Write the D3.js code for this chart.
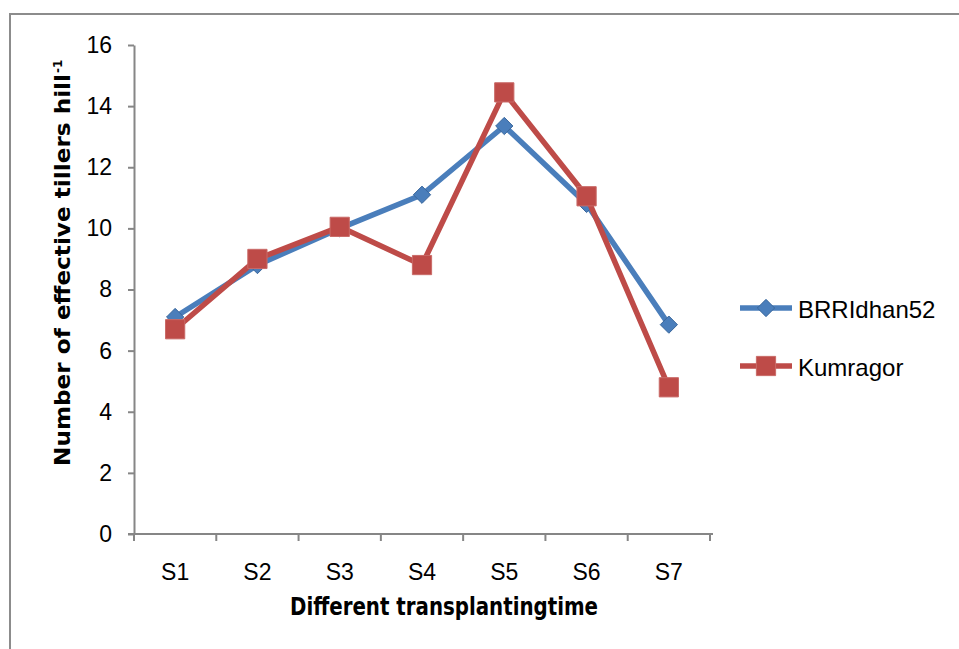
<!DOCTYPE html>
<html>
<head>
<meta charset="utf-8">
<script src="https://cdn.jsdelivr.net/npm/d3@7"></script>
<style>
  html, body { margin: 0; padding: 0; background: #ffffff; }
  svg { display: block; }
</style>
</head>
<body>
<svg id="chart" width="959" height="649"></svg>
<script>
// Transplanting dates and effective tillers per hill for the two varieties
const categories = ["S1", "S2", "S3", "S4", "S5", "S6", "S7"];
const brriValues = [7.1, 8.8, 10.0, 11.1, 13.35, 10.8, 6.85];
const kumragorValues = [6.7, 9.0, 10.05, 8.8, 14.45, 11.05, 4.8];
const yTicks = [0, 2, 4, 6, 8, 10, 12, 14, 16];
const seriesNames = ["BRRIdhan52", "Kumragor"];

const svg = d3.select("#chart");
const W = 959, H = 649;

const axisColor = "#868686";
const blue = "#4a7ebb", blueEdge = "#3a679c";
const red = "#be4b48", redEdge = "#c96a67";

// outer chart frame (top and left edges show inside the view)
svg.append("rect")
  .attr("x", 10).attr("y", 14)
  .attr("width", W + 20).attr("height", H + 20)
  .attr("fill", "none").attr("stroke", "#8c8c8c").attr("stroke-width", 2);

const plotLeft = 134, plotRight = 710, plotTop = 45, plotBottom = 534;

const x = d3.scaleBand().domain(categories).range([plotLeft, plotRight]).padding(0);
const y = d3.scaleLinear().domain([0, 16]).range([plotBottom, plotTop]);

// y axis
const yAxis = svg.append("g").attr("transform", `translate(${plotLeft},0)`)
  .call(d3.axisLeft(y).tickValues(yTicks).tickSize(6).tickSizeOuter(0).tickPadding(16));
yAxis.select(".domain").attr("stroke", axisColor).attr("stroke-width", 2);
yAxis.selectAll(".tick line").attr("stroke", axisColor).attr("stroke-width", 2);
yAxis.selectAll(".tick text")
  .attr("font-family", "'Liberation Sans', Arial, sans-serif")
  .attr("font-size", 23).attr("fill", "#000");

// x axis: ticks sit on the category boundaries
const xAxisG = svg.append("g").attr("transform", `translate(0,${plotBottom})`);
xAxisG.append("line")
  .attr("x1", plotLeft - 6).attr("x2", plotRight + 3)
  .attr("y1", 0).attr("y2", 0)
  .attr("stroke", axisColor).attr("stroke-width", 2);
const boundaries = categories.map(c => x(c)).concat([x(categories[categories.length - 1]) + x.bandwidth()]);
xAxisG.selectAll("line.tk").data(boundaries).join("line")
  .attr("class", "tk")
  .attr("x1", d => d).attr("x2", d => d)
  .attr("y1", 0).attr("y2", 7)
  .attr("stroke", axisColor).attr("stroke-width", 2);
xAxisG.selectAll("text").data(categories).join("text")
  .attr("x", d => x(d) + x.bandwidth() / 2)
  .attr("y", 46)
  .attr("text-anchor", "middle")
  .attr("font-family", "'Liberation Sans', Arial, sans-serif")
  .attr("font-size", 23).attr("fill", "#000")
  .text(d => d);

// axis titles
svg.append("text")
  .attr("x", 290).attr("y", 615)
  .attr("font-family", "'DejaVu Sans', Verdana, sans-serif")
  .attr("font-weight", "bold").attr("font-size", 24)
  .attr("textLength", 308).attr("lengthAdjust", "spacingAndGlyphs")
  .attr("fill", "#000")
  .text("Different transplantingtime");

svg.append("text")
  .attr("transform", "translate(70,466) rotate(-90)")
  .attr("font-family", "'DejaVu Sans', Verdana, sans-serif")
  .attr("font-weight", "bold").attr("font-size", 22)
  .attr("textLength", 392).attr("lengthAdjust", "spacingAndGlyphs")
  .attr("fill", "#000")
  .text("Number of effective tillers hill");
svg.append("text")
  .attr("transform", "translate(62,73) rotate(-90)")
  .attr("font-family", "'DejaVu Sans', Verdana, sans-serif")
  .attr("font-weight", "bold").attr("font-size", 12)
  .attr("fill", "#000")
  .text("-1");

// series
const series = [
  { name: seriesNames[0], values: brriValues, color: blue, edge: blueEdge, shape: "diamond" },
  { name: seriesNames[1], values: kumragorValues, color: red, edge: redEdge, shape: "square" }
];

const line = d3.line()
  .x((d, i) => x(categories[i]) + x.bandwidth() / 2)
  .y(d => y(d));

const diamond = d3.symbol().type(d3.symbolDiamond2).size(190);
const square = d3.symbol().type(d3.symbolSquare).size(370);

function drawMarker(g, shape, color, edge) {
  g.append("path").attr("d", shape === "diamond" ? diamond() : square())
    .attr("fill", color).attr("stroke", edge).attr("stroke-width", 1);
}

series.forEach(s => {
  const g = svg.append("g");
  g.append("path")
    .datum(s.values)
    .attr("d", line)
    .attr("fill", "none")
    .attr("stroke", s.color)
    .attr("stroke-width", 5.5)
    .attr("stroke-linejoin", "round");
  s.values.forEach((v, i) => {
    const m = g.append("g")
      .attr("transform", `translate(${x(categories[i]) + x.bandwidth() / 2},${y(v)})`);
    drawMarker(m, s.shape, s.color, s.edge);
  });
});

// legend
const legend = svg.append("g");
series.forEach((s, i) => {
  const ly = 308 + i * 58;
  const item = legend.append("g").attr("transform", `translate(740,${ly})`);
  item.append("line")
    .attr("x1", 0).attr("x2", 52).attr("y1", 0).attr("y2", 0)
    .attr("stroke", s.color).attr("stroke-width", 5.5);
  const m = item.append("g").attr("transform", "translate(26,0)");
  drawMarker(m, s.shape, s.color, s.edge);
  item.append("text")
    .attr("x", 58).attr("y", 10)
    .attr("font-family", "'Liberation Sans', Arial, sans-serif")
    .attr("font-size", 24).attr("fill", "#000")
    .text(s.name);
});
</script>
</body>
</html>
